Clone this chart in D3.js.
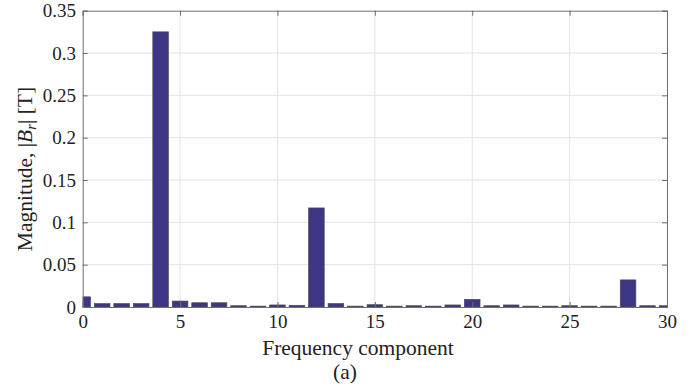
<!DOCTYPE html>
<html>
<head>
<meta charset="utf-8">
<script src="https://cdn.jsdelivr.net/npm/d3@7"></script>
<style>
  html, body { margin: 0; padding: 0; background: #fff; }
  svg { display: block; }
  text { font-family: "Liberation Serif", "Times New Roman", serif; fill: #222; }
</style>
</head>
<body>
<svg id="chart" width="693" height="387"></svg>
<script>
// Harmonic orders (frequency components) and radial flux density magnitudes
const harmonics = d3.range(0, 31);
const magnitudes = [
  0.012, 0.004, 0.004, 0.004, 0.325, 0.007, 0.005, 0.005, 0.0015, 0.001,
  0.0024, 0.002, 0.117, 0.004, 0.001, 0.0027, 0.001, 0.0015, 0.001, 0.0024,
  0.009, 0.0015, 0.0024, 0.001, 0.001, 0.0015, 0.001, 0.001, 0.032, 0.0015,
  0.0015
];
const xTicks = [0, 5, 10, 15, 20, 25, 30];
const yTicks = [0, 0.05, 0.1, 0.15, 0.2, 0.25, 0.3, 0.35];
const yTickLabels = ["0", "0.05", "0.1", "0.15", "0.2", "0.25", "0.3", "0.35"];

const svg = d3.select("#chart");
const margin = { left: 82.7, right: 693 - 667, top: 10.7, bottom: 387 - 307 };
const W = 693 - margin.left - margin.right;
const H = 387 - margin.top - margin.bottom;

const x = d3.scaleLinear().domain([0, 30]).range([0, W]);
const y = d3.scaleLinear().domain([0, 0.35]).range([H, 0]);
const barW = x(0.8) - x(0);

const g = svg.append("g").attr("transform", `translate(${margin.left},${margin.top})`);

svg.append("defs").append("clipPath").attr("id", "plotClip")
  .append("rect").attr("width", W).attr("height", H);

// grid
g.append("g").selectAll("line").data(xTicks.slice(1, -1)).join("line")
  .attr("x1", d => x(d)).attr("x2", d => x(d)).attr("y1", 0).attr("y2", H)
  .attr("stroke", "#e3e3e3").attr("stroke-width", 1);
g.append("g").selectAll("line").data(yTicks.slice(1, -1)).join("line")
  .attr("y1", d => y(d)).attr("y2", d => y(d)).attr("x1", 0).attr("x2", W)
  .attr("stroke", "#e3e3e3").attr("stroke-width", 1);

// bars
g.append("g").attr("clip-path", "url(#plotClip)")
  .selectAll("rect").data(harmonics).join("rect")
  .attr("x", d => x(d) - barW / 2)
  .attr("width", barW)
  .attr("y", (d, i) => y(magnitudes[i]))
  .attr("height", (d, i) => y(0) - y(magnitudes[i]))
  .attr("fill", "#3c3684")
  .attr("stroke", "#4a4a5a")
  .attr("stroke-width", 0.7);

// axes (ticks pointing inward, box on all sides)
const axisColor = "#6e6e6e";
const tickLen = 5;
const xb = g.append("g").attr("transform", `translate(0,${H})`)
  .call(d3.axisBottom(x).tickValues(xTicks).tickSize(-tickLen).tickFormat(d3.format("d")));
const xt = g.append("g")
  .call(d3.axisTop(x).tickValues(xTicks).tickSize(-tickLen).tickFormat(""));
const yl = g.append("g")
  .call(d3.axisLeft(y).tickValues(yTicks).tickSize(-tickLen).tickPadding(6.7)
    .tickFormat((d, i) => yTickLabels[i]));
const yr = g.append("g").attr("transform", `translate(${W},0)`)
  .call(d3.axisRight(y).tickValues(yTicks).tickSize(-tickLen).tickFormat(""));

[xb, xt, yl, yr].forEach(a => {
  a.select(".domain").attr("stroke", axisColor).attr("stroke-width", 1);
  a.selectAll(".tick line").attr("stroke", axisColor);
  a.selectAll(".tick text").attr("font-family", "Liberation Serif, serif")
    .attr("font-size", 19).attr("fill", "#222");
});
xb.selectAll(".tick text").attr("y", 21).attr("dy", 0);

// axis titles
svg.append("text")
  .attr("x", 358).attr("y", 355)
  .attr("text-anchor", "middle").attr("font-size", 21.5)
  .text("Frequency component");

svg.append("text")
  .attr("x", 345).attr("y", 379)
  .attr("text-anchor", "middle").attr("font-size", 21.5)
  .text("(a)");

const yTitle = svg.append("text")
  .attr("transform", `translate(31.5,169) rotate(-90)`)
  .attr("text-anchor", "middle").attr("font-size", 21.5);
yTitle.append("tspan").text("Magnitude, |");
yTitle.append("tspan").attr("font-style", "italic").text("B");
yTitle.append("tspan").attr("font-style", "italic").attr("font-size", 15).attr("dy", 4).text("r");
yTitle.append("tspan").attr("dy", -4).text("| [T]");
</script>
</body>
</html>
